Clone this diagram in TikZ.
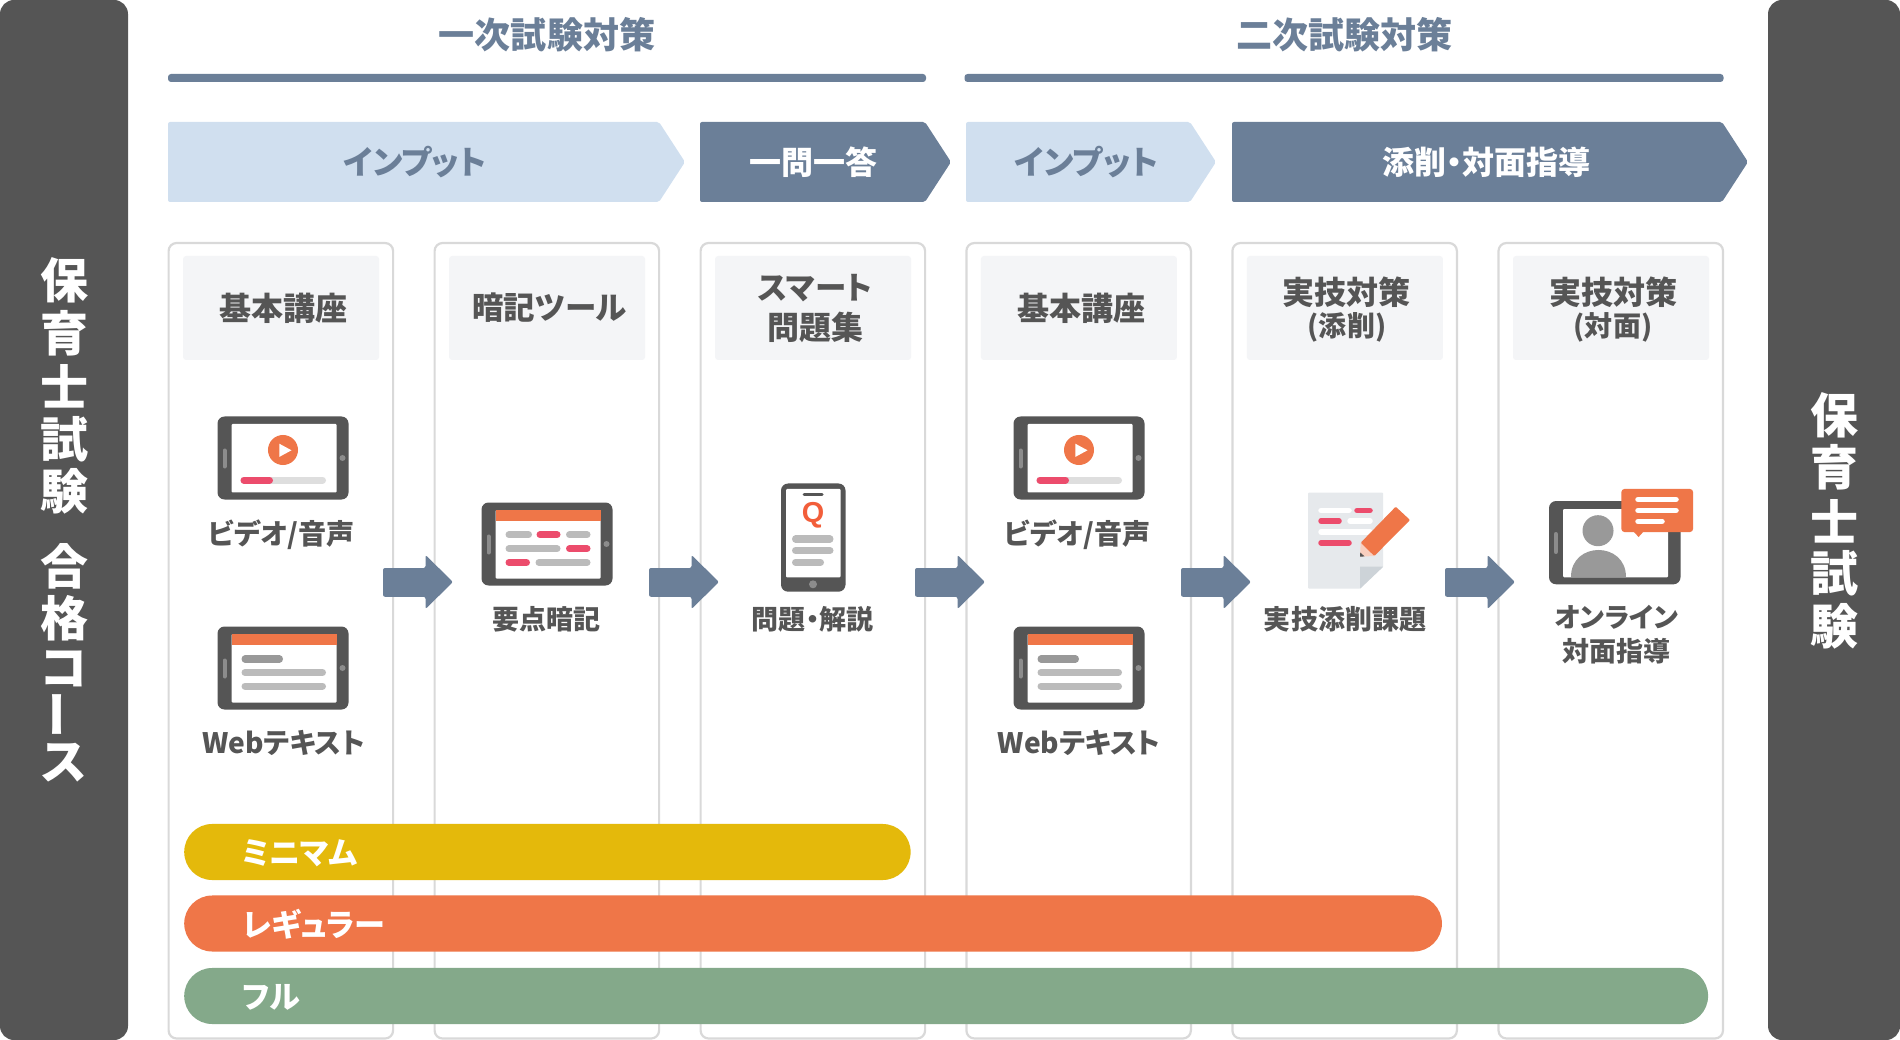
\documentclass[tikz,border=0pt]{standalone}
\usepackage{fontspec}
\setmainfont[RawFeature=+palt]{Noto Sans CJK JP}
\newfontface\qfont{Liberation Sans Bold}
\usetikzlibrary{positioning}
\definecolor{ink}{HTML}{555555}
\definecolor{slate}{HTML}{6B7F98}
\definecolor{pale}{HTML}{D0DFEF}
\definecolor{coral}{HTML}{EF7648}
\definecolor{rose}{HTML}{EC4C6C}
\definecolor{midgrey}{HTML}{BBBBBB}
\definecolor{mist}{HTML}{F4F5F7}
\definecolor{sheetgrey}{HTML}{E6E9EC}
\definecolor{foldgrey}{HTML}{CDD3D8}
\definecolor{mustard}{HTML}{E4B90B}
\definecolor{sage}{HTML}{84A98A}
\tikzstyle{sidebar} = [fill=ink, rounded corners=0.14cm]
\tikzstyle{sidetext} = [inner sep=0, text=white, font=\fontsize{13.66pt}{16pt}\selectfont\bfseries]
\tikzstyle{phase} = [inner sep=0, text=slate, font=\fontsize{10.24pt}{12pt}\selectfont\bfseries]
\tikzstyle{rule} = [fill=slate, rounded corners=0.03cm]
\tikzstyle{chev} = [rounded corners=0.02cm]
\tikzstyle{chevtext} = [inner sep=0, font=\fontsize{9.1pt}{11pt}\selectfont\bfseries]
\tikzstyle{column} = [draw=black!15, fill=white, line width=0.022cm, rounded corners=0.08cm]
\tikzstyle{headbox} = [fill=mist, rounded corners=0.03cm]
\tikzstyle{headtext} = [inner sep=0, text=ink, font=\fontsize{9.1pt}{11pt}\selectfont\bfseries]
\tikzstyle{subtext} = [inner sep=0, text=ink, font=\fontsize{7.97pt}{10pt}\selectfont\bfseries]
\tikzstyle{item} = [inner sep=0, text=ink, font=\fontsize{8pt}{10pt}\selectfont\bfseries]
\tikzstyle{kanjiitem} = [inner sep=0, text=ink, font=\fontsize{7.68pt}{10pt}\selectfont\bfseries]
\tikzstyle{step arrow} = [fill=slate, rounded corners=0.02cm]
\tikzstyle{pill} = [line width=0.07cm, line cap=round]
\tikzstyle{plan} = [inner sep=0, anchor=west, minimum height=0.56cm, rounded corners=0.28cm]
\tikzstyle{plantext} = [inner sep=0, anchor=west, text=white, font=\fontsize{8.85pt}{10pt}\selectfont\bfseries]

% tablet shell, with its top left corner at #1
\newcommand{\tabletshell}[1]{
    \fill [ink, rounded corners=0.07cm, shift={(#1)}] (0,0) rectangle (131,83);
    \fill [white, rounded corners=0.01cm, shift={(#1)}] (14,7.5) rectangle (119,76);
    \draw [black!45, line width=0.04cm, line cap=round, shift={(#1)}] (7,34) -- (7,50);
    \fill [black!45, shift={(#1)}] (125,41.5) circle (0.03cm);
}
\newcommand{\videotablet}[1]{
    \tabletshell{#1}
    \fill [coral, shift={(#1)}] (65.5,33.5) circle (0.15cm);
    \fill [white, shift={(#1)}] (61.8,27.2) -- (74,33.8) -- (61.8,40.4) -- cycle;
    \draw [pill, black!13, shift={(#1)}] (26.5,63.6) -- (105,63.6);
    \draw [pill, rose, shift={(#1)}] (26.5,63.6) -- (52,63.6);
}
\newcommand{\webtablet}[1]{
    \tabletshell{#1}
    \fill [coral, shift={(#1)}] (14,7.5) rectangle (119,18.2);
    \draw [pill, black!40, shift={(#1)}] (27.5,32.5) -- (62,32.5);
    \draw [pill, midgrey, shift={(#1)}] (27.5,46) -- (105,46);
    \draw [pill, midgrey, shift={(#1)}] (27.5,59.5) -- (105,59.5);
}

\begin{document}
\begin{tikzpicture}[x=0.01cm, y=-0.01cm]
    \useasboundingbox (0,0) rectangle (1900,1040);

    % side bars
    \fill [sidebar] (0,0) rectangle (128,1040);
    \fill [sidebar] (1768,0) rectangle (1900,1040);
    \foreach \y/\c [count=\i] in {280/保,333/育,386.5/士,439.5/試,491.5/験,566/合,618/格,669/コ,763/ス}
        \node (goal\i) [sidetext] at (64.5,\y) {\c};
    \node (goalbar) [sidetext, rotate=90] at (64,715) {ー};
    \foreach \y/\c [count=\i] in {415.6/保,467.7/育,521/士,573.5/試,626/験}
        \node (exam\i) [sidetext] at (1834.5,\y) {\c};

    % phases
    \node (first) [phase] at (547,35) {一次試験対策};
    \node (second) [phase] at (1344.3,35) {二次試験対策};
    \fill [rule] (168,74) rectangle (926,82);
    \fill [rule] (964.5,74) rectangle (1723.5,82);

    \fill [chev, pale] (168,122) -- (659,122) -- (685,162) -- (659,202) -- (168,202) -- cycle;
    \fill [chev, slate] (700,122) -- (925,122) -- (951,162) -- (925,202) -- (700,202) -- cycle;
    \fill [chev, pale] (966,122) -- (1190,122) -- (1216,162) -- (1190,202) -- (966,202) -- cycle;
    \fill [chev, slate] (1232,122) -- (1722,122) -- (1748,162) -- (1722,202) -- (1232,202) -- cycle;
    \node (input1) [chevtext, text=slate, font=\fontsize{9.3pt}{11pt}\selectfont\bfseries] at (415,162) {インプット};
    \node (oneq) [chevtext, text=white] at (813,162) {一問一答};
    \node (input2) [chevtext, text=slate, font=\fontsize{9.3pt}{11pt}\selectfont\bfseries] at (1086.3,162) {インプット};
    \node (coach) [chevtext, text=white] at (1486,162) {添削・対面指導};

    % columns
    \foreach \x in {168.6,434.6,700.6,966.4,1232.4,1498.5} {
        \draw [column] (\x,243) rectangle (\x+224.5,1038.5);
        \fill [headbox] (\x+14.5,256) rectangle (\x+210.5,360);
    }
    \node (basic1) [headtext] at (283,308) {基本講座};
    \node (memo) [headtext, font=\fontsize{8.95pt}{11pt}\selectfont\bfseries] at (549.5,308) {暗記ツール};
    \node (smart) [headtext, font=\fontsize{8.95pt}{11pt}\selectfont\bfseries] at (815,288.5) {スマート};
    \node (drill) [headtext] at (815,327) {問題集};
    \node (basic2) [headtext] at (1081,308) {基本講座};
    \node (skill1) [headtext] at (1346.5,292.5) {実技対策};
    \node (skill1sub) [subtext] at (1347,327.5) {(添削)};
    \node (skill2) [headtext] at (1613,292.5) {実技対策};
    \node (skill2sub) [subtext] at (1613,327.5) {(対面)};

    % arrows between columns
    \foreach \x in {383,649,915,1181,1445}
        \fill [step arrow, shift={(\x,0)}] (0,568) -- (42.5,568) -- (42.5,555) -- (70,582) -- (42.5,609) -- (42.5,596.8) -- (0,596.8) -- cycle;

    % tablets of the two basic courses
    \videotablet{217.5,416.5}
    \webtablet{217.5,626.5}
    \videotablet{1013.5,416.5}
    \webtablet{1013.5,626.5}
    \node (video1) [item] at (281.5,534.5) {ビデオ/音声};
    \node (web1) [item] at (283.5,742.5) {Webテキスト};
    \node (video2) [item] at (1077.5,534.5) {ビデオ/音声};
    \node (web2) [item] at (1079,742.5) {Webテキスト};

    % memo tablet
    \tabletshell{481.5,502.5}
    \fill [coral] (495.5,510) rectangle (600.5,520.7);
    \draw [pill, midgrey] (509,534.7) -- (528.5,534.7) (569.5,534.7) -- (587,534.7) (509,548.7) -- (557,548.7) (539,562.5) -- (587,562.5);
    \draw [pill, rose] (540,534.7) -- (557,534.7) (569.5,548.7) -- (587,548.7) (509,562.5) -- (526.5,562.5);
    \node (points) [kanjiitem] at (546.5,619) {要点暗記};

    % phone
    \fill [ink, rounded corners=0.07cm] (781,483.5) rectangle (845.5,591.7);
    \fill [white, rounded corners=0.01cm] (786,489) rectangle (840.5,577.3);
    \draw [ink, line width=0.03cm, line cap=round] (804,494.5) -- (822,494.5);
    \fill [black!45] (813,584.3) circle (0.04cm);
    \node (qmark) [inner sep=0, text=coral!80!red, font=\fontsize{8.2pt}{9pt}\qfont] at (813,515) {Q};
    \draw [pill, midgrey] (795.5,539) -- (830,539) (795.5,550.5) -- (830,550.5) (795.5,562.3) -- (820.5,562.3);
    \node (answer) [kanjiitem] at (812.5,619) {問題・解説};

    % sheet and pencil
    \fill [sheetgrey, rounded corners=0.01cm] (1308,492.7) -- (1383.2,492.7) -- (1383.2,566.7) -- (1360,588.7) -- (1308,588.7) -- cycle;
    \fill [foldgrey] (1360,566.7) -- (1383.2,566.7) -- (1360,588.7) -- cycle;
    \draw [white, line width=0.055cm, line cap=round] (1321,510.5) -- (1349,510.5) (1350,521) -- (1370,521) (1321,532) -- (1370,532);
    \draw [rose, line width=0.055cm, line cap=round] (1357,510.5) -- (1370,510.5) (1321,521) -- (1339,521) (1321,542.8) -- (1349,542.8);
    \fill [coral!35] (1360.7,542.7) -- (1374.3,556) -- (1360,556.7) -- cycle;
    \fill [ink] (1360.3,552.5) -- (1364.5,556.4) -- (1360,556.7) -- cycle;
    \fill [coral, rounded corners=0.01cm] (1395.7,506.7) -- (1410,520) -- (1374.3,556) -- (1360.7,542.7) -- cycle;
    \node (sheet) [kanjiitem] at (1345,619) {実技添削課題};

    % online tablet
    \fill [ink, rounded corners=0.07cm] (1549,501) rectangle (1680.5,584.3);
    \fill [white, rounded corners=0.01cm] (1563.2,509) rectangle (1668,577.3);
    \draw [black!45, line width=0.04cm, line cap=round] (1555.7,534) -- (1555.7,552);
    \fill [black!40] (1598,530.7) circle (0.155cm);
    \fill [black!40] (1570.7,577.3) .. controls (1570.7,541) and (1625.7,541) .. (1625.7,577.3) -- cycle;
    \fill [coral, rounded corners=0.03cm] (1621.4,489) rectangle (1693,532);
    \fill [coral] (1633,531) -- (1638.6,537) -- (1644,531) -- cycle;
    \draw [white, line width=0.055cm, line cap=round] (1638,499.5) -- (1676,499.5) (1638,510.5) -- (1676,510.5) (1638,521.4) -- (1662,521.4);
    \node (online) [kanjiitem] at (1616.5,617.5) {オンライン};
    \node (face) [kanjiitem] at (1616.5,651) {対面指導};

    % plans
    \node (minimum) [plan, fill=mustard, minimum width=7.26cm] at (183.5,852) {};
    \node (regular) [plan, fill=coral, minimum width=12.57cm] at (183.5,923.5) {};
    \node (full) [plan, fill=sage, minimum width=15.23cm] at (183.5,996) {};
    \node (minimumtext) [plantext] at (241.5,853) {ミニマム};
    \node (regulartext) [plantext] at (241.5,924) {レギュラー};
    \node (fulltext) [plantext] at (241.5,997) {フル};

\end{tikzpicture}
\end{document}
